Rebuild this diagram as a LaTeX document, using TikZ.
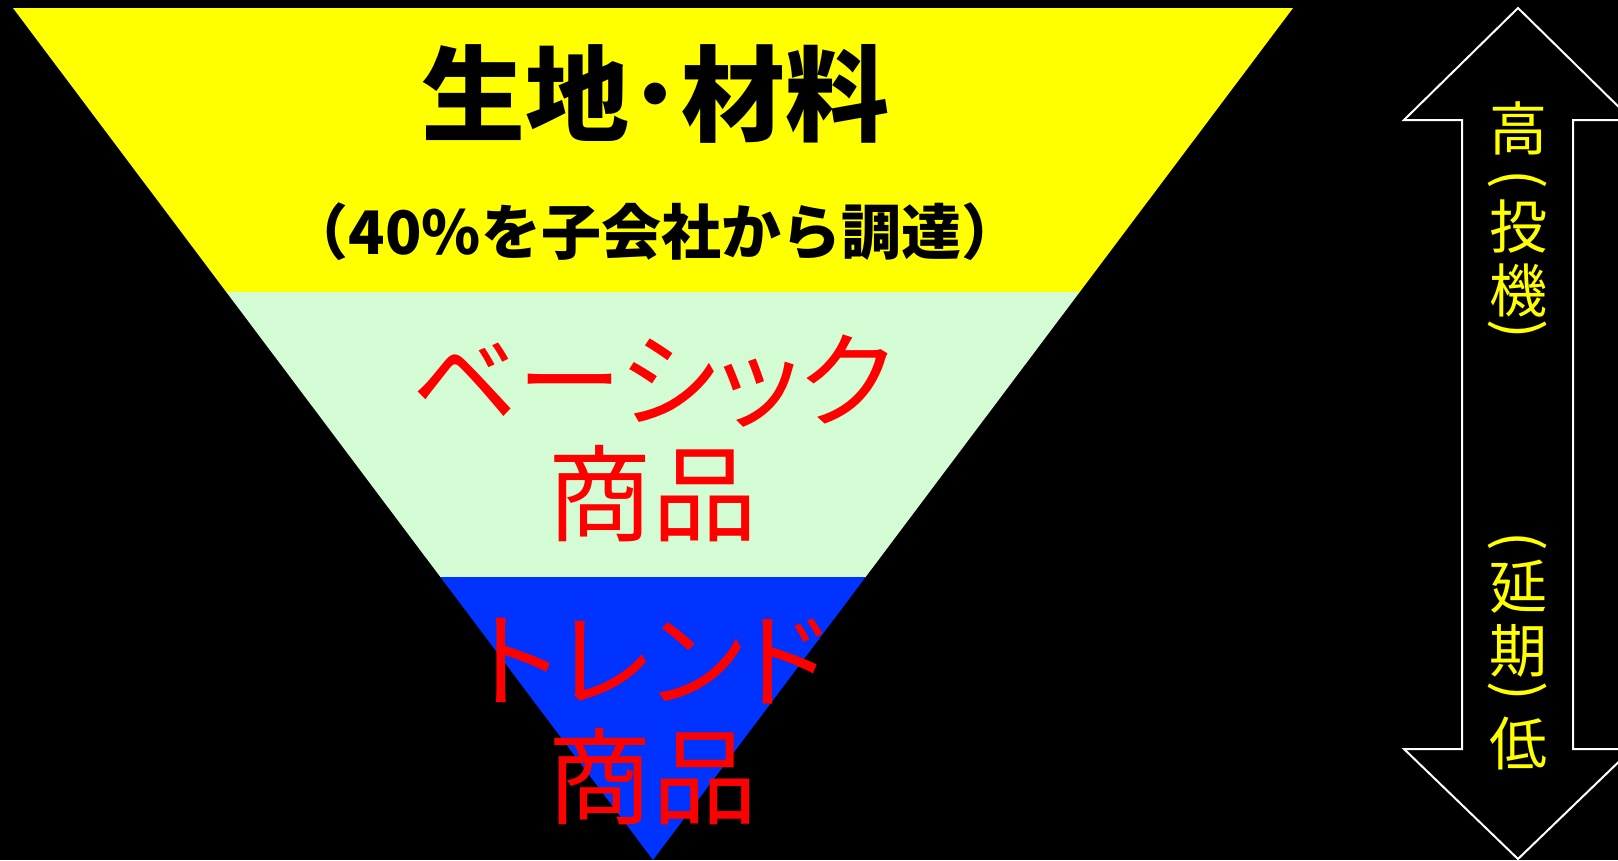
\documentclass[tikz,border=0pt]{standalone}
\usepackage{fontspec}
\newfontfamily\jp{Noto Sans CJK JP}
\newfontfamily\jpp{Noto Sans CJK JP}[RawFeature=+palt]
\definecolor{bandyellow}{HTML}{FFFF00}
\definecolor{bandgreen}{HTML}{D4FCD4}
\definecolor{bandblue}{HTML}{0033FF}
\definecolor{txtred}{HTML}{FF0000}
\definecolor{txtyellow}{HTML}{FFFF00}
\tikzset{
  band/.style={draw=none},
  titletext/.style={font=\jp\bfseries\fontsize{104}{110}\selectfont, text=black, inner sep=0pt, anchor=base},
  subtext/.style={font=\jp\bfseries\fontsize{60}{64}\selectfont, text=black, inner sep=0pt, anchor=base},
  redtext/.style={font=\jpp\fontsize{105}{110}\selectfont, text=txtred, inner sep=0pt, anchor=base},
  vchar/.style={font=\jp\fontsize{58}{60}\selectfont, text=txtyellow, inner sep=0pt, anchor=base},
  vparen/.style={font=\jp\fontsize{58}{60}\selectfont, text=txtyellow, inner sep=0pt, anchor=center, rotate=-90},
  outline/.style={draw=white, line width=2pt, line join=miter}
}
\begin{document}
\begin{tikzpicture}[x=1pt,y=-1pt]
\useasboundingbox (0,0) rectangle (1618,860);
\fill[black] (0,0) rectangle (1618,860);
% inverted triangle bands
\fill[bandyellow,band] (13,8) -- (1293,8) -- (1079.7,292) -- (226.3,292) -- cycle;
\fill[bandgreen,band] (226.3,292) -- (1079.7,292) -- (865.6,577) -- (440.4,577) -- cycle;
\fill[bandblue,band] (440.4,577) -- (865.6,577) -- (653,860) -- cycle;
% texts
\node[titletext] (title) at (655,133) {生地･材料};
\node[subtext] (sub) at (655,254) {（40\%を子会社から調達）};
\node[redtext] (basic) at (653,419) {ベーシック};
\node[redtext] (basicb) at (652,533) {商品};
\node[redtext] (trend) at (652,699) {トレンド};
\node[redtext] (trendb) at (652,816) {商品};
% double arrow outline
\begin{scope}
\clip (0,0) rectangle (1618,860);
\draw[outline] (1518,8) -- (1632,120) -- (1573,120) -- (1573,749) -- (1632,749)
  -- (1518,859) -- (1404,749) -- (1462,749) -- (1462,120) -- (1404,120) -- cycle;
\end{scope}
% vertical text
\node[vchar] (v1) at (1518,150) {高};
\node[vparen] (v2) at (1518,179) {(};
\node[vchar] (v3) at (1518,248) {投};
\node[vchar] (v4) at (1518,312) {機};
\node[vparen] (v5) at (1518,329) {)};
\node[vparen] (w1) at (1518,541) {(};
\node[vchar] (w2) at (1518,608) {延};
\node[vchar] (w3) at (1518,672) {期};
\node[vparen] (w4) at (1518,691) {)};
\node[vchar] (w5) at (1518,765) {低};
\end{tikzpicture}
\end{document}
